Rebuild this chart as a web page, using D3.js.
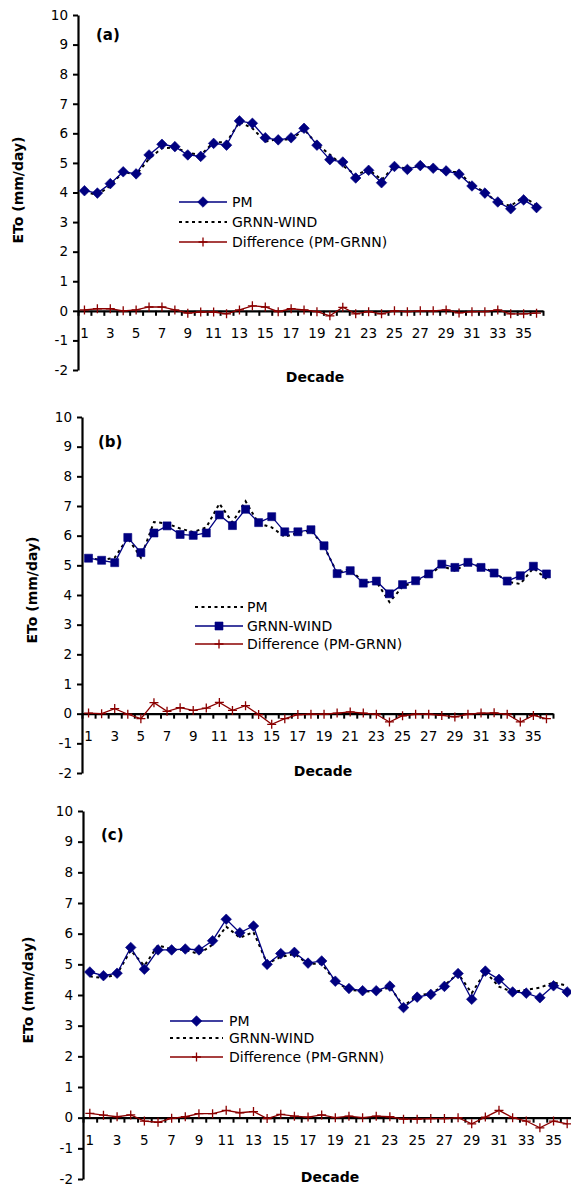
<!DOCTYPE html>
<html>
<head>
<meta charset="utf-8">
<script src="https://cdn.jsdelivr.net/npm/d3@7"></script>
<style>
  body { margin: 0; background: #fff; }
  svg { display: block; font-family: "DejaVu Sans", sans-serif; }
</style>
</head>
<body>
<svg id="chart" width="571" height="1185"></svg>
<script>
// categories and tick labels
var decades = d3.range(1, 37);
var yTicks = [-2, -1, 0, 1, 2, 3, 4, 5, 6, 7, 8, 9, 10];
var xLabels = [1, 3, 5, 7, 9, 11, 13, 15, 17, 19, 21, 23, 25, 27, 29, 31, 33, 35];

// (a)
var pmA = [4.06,3.98,4.30,4.70,4.63,5.27,5.63,5.55,5.27,5.22,5.66,5.60,6.42,6.34,5.85,5.78,5.85,6.17,5.60,5.11,5.03,4.49,4.75,4.33,4.88,4.78,4.91,4.82,4.73,4.62,4.22,3.98,3.68,3.45,3.75,3.49];
var grnnA = [4.03,3.91,4.23,4.70,4.60,5.14,5.50,5.52,5.35,5.26,5.70,5.70,6.39,6.17,5.72,5.81,5.78,6.14,5.63,5.28,4.91,4.59,4.78,4.43,4.88,4.81,4.91,4.82,4.70,4.69,4.25,4.01,3.65,3.55,3.85,3.57];
var diffA = [0.03,0.07,0.07,0.00,0.03,0.13,0.13,0.03,-0.08,-0.04,-0.04,-0.10,0.03,0.17,0.13,-0.03,0.07,0.03,-0.03,-0.17,0.12,-0.10,-0.03,-0.10,0.00,-0.03,0.00,0.00,0.03,-0.07,-0.03,-0.03,0.03,-0.10,-0.10,-0.08];

// (b)
var pmB = [5.26,5.17,5.26,5.92,5.26,6.46,6.41,6.24,6.12,6.28,7.08,6.45,7.16,6.41,6.28,5.96,6.10,6.18,5.64,4.74,4.88,4.42,4.45,3.76,4.28,4.46,4.69,4.98,4.82,5.08,4.95,4.77,4.45,4.37,4.91,4.54];
var grnnB = [5.24,5.17,5.09,5.94,5.43,6.09,6.33,6.04,6.01,6.09,6.70,6.34,6.89,6.44,6.64,6.13,6.13,6.20,5.66,4.72,4.82,4.40,4.47,4.04,4.35,4.48,4.71,5.04,4.93,5.10,4.93,4.74,4.47,4.65,4.97,4.71];
var diffB = [0.02,0.00,0.17,-0.02,-0.17,0.37,0.08,0.20,0.11,0.19,0.38,0.11,0.27,-0.03,-0.36,-0.17,-0.03,-0.02,-0.02,0.02,0.06,0.02,-0.02,-0.28,-0.07,-0.02,-0.02,-0.06,-0.11,-0.02,0.02,0.03,-0.02,-0.28,-0.06,-0.17];

// (c)
var pmC = [4.75,4.63,4.71,5.55,4.84,5.47,5.47,5.50,5.47,5.77,6.47,6.03,6.25,5.00,5.35,5.39,5.04,5.11,4.45,4.21,4.14,4.14,4.29,3.59,3.93,4.02,4.28,4.70,3.86,4.78,4.51,4.10,4.06,3.91,4.30,4.10];
var grnnC = [4.61,4.55,4.68,5.46,4.95,5.62,5.49,5.47,5.34,5.64,6.23,5.87,6.05,5.03,5.24,5.34,5.02,5.02,4.45,4.16,4.14,4.09,4.26,3.64,3.98,4.05,4.31,4.70,4.06,4.76,4.27,4.10,4.17,4.24,4.41,4.30];
var diffC = [0.14,0.08,0.03,0.09,-0.11,-0.15,-0.02,0.03,0.13,0.13,0.24,0.16,0.20,-0.03,0.11,0.05,0.02,0.09,0.00,0.05,0.00,0.05,0.03,-0.05,-0.05,-0.03,-0.03,0.00,-0.20,0.02,0.24,0.00,-0.11,-0.33,-0.11,-0.20];

var NAVY = "#000080";
var RED = "#8b0000";
var FONT = "'DejaVu Sans', sans-serif";

var panels = [
  { tag: "(a)", x0: 78, x1: 543, yTop: 15, yBot: 370,
    tagX: 96, tagY: 40, yLabX: 18, yLabY: 190, decX: 315, decY: 382,
    legX0: 179, legX1: 227, legTx: 232, legY: [202, 222, 242],
    series: [
      { name: "PM", values: pmA, kind: "diamond" },
      { name: "GRNN-WIND", values: grnnA, kind: "dotted" },
      { name: "Difference (PM-GRNN)", values: diffA, kind: "plus" }
    ] },
  { tag: "(b)", x0: 82, x1: 553, yTop: 417, yBot: 773,
    tagX: 98, tagY: 447, yLabX: 32, yLabY: 590, decX: 323, decY: 776,
    legX0: 195, legX1: 243, legTx: 247, legY: [607, 626, 644],
    series: [
      { name: "PM", values: pmB, kind: "dotted" },
      { name: "GRNN-WIND", values: grnnB, kind: "square" },
      { name: "Difference (PM-GRNN)", values: diffB, kind: "plus" }
    ] },
  { tag: "(c)", x0: 83, x1: 574, yTop: 811, yBot: 1179,
    tagX: 101, tagY: 840, yLabX: 28, yLabY: 990, decX: 330, decY: 1182,
    legX0: 170, legX1: 223, legTx: 229, legY: [1021, 1038, 1057],
    series: [
      { name: "PM", values: pmC, kind: "diamond" },
      { name: "GRNN-WIND", values: grnnC, kind: "dotted" },
      { name: "Difference (PM-GRNN)", values: diffC, kind: "plus" }
    ] }
];

var svg = d3.select("#chart");

// marker shapes
function markerPath(kind) {
  if (kind === "diamond") return "M0,-5.3L5.3,0L0,5.3L-5.3,0Z";
  if (kind === "square") return "M-4,-4H4V4H-4Z";
  if (kind === "plus") return "M-4.5,0H4.5M0,-4.5V4.5";
  return null;
}

function styleLine(sel, kind) {
  if (kind === "dotted") {
    sel.attr("stroke", "#000").attr("stroke-width", 2).attr("stroke-dasharray", "3,3.5");
  } else if (kind === "plus") {
    sel.attr("stroke", RED).attr("stroke-width", 1.3);
  } else {
    sel.attr("stroke", NAVY).attr("stroke-width", 1.3);
  }
  sel.attr("fill", "none");
}

function styleMarker(sel, kind) {
  if (kind === "plus") {
    sel.attr("fill", "none").attr("stroke", RED).attr("stroke-width", 1.3);
  } else {
    sel.attr("fill", NAVY).attr("stroke", NAVY).attr("stroke-width", 0.6);
  }
}

var drawPanel = function(p) {
  var g = svg.append("g");

  var x = d3.scaleBand().domain(decades).range([p.x0, p.x1]).padding(0);
  var xEdge = d3.scaleLinear().domain([0, decades.length]).range([p.x0, p.x1]);
  var y = d3.scaleLinear().domain([-2, 10]).range([p.yBot, p.yTop]);
  var cx = function(d) { return x(d) + x.bandwidth() / 2; };

  // y axis (plain hyphen for negatives, as in the original)
  g.append("g")
    .attr("transform", "translate(" + p.x0 + ",0)")
    .call(d3.axisLeft(y).tickValues(yTicks).tickSize(5).tickSizeOuter(0).tickPadding(5)
      .tickFormat(function(d) { return String(d); }))
    .attr("font-family", FONT).attr("font-size", 13.5)
    .call(function(a) {
      a.select(".domain").attr("stroke-width", 2.2);
      a.selectAll(".tick line").attr("stroke-width", 2);
      a.selectAll(".tick text").attr("fill", "#000");
    });

  // x axis line at zero with ticks between categories
  g.append("g")
    .attr("transform", "translate(0," + y(0) + ")")
    .call(d3.axisBottom(xEdge).tickValues(d3.range(0, decades.length + 1)).tickSize(5).tickSizeOuter(0).tickFormat(""))
    .call(function(a) {
      a.select(".domain").attr("stroke-width", 2.2);
      a.selectAll(".tick line").attr("stroke-width", 2);
    });

  // x labels at category centres
  g.append("g")
    .attr("transform", "translate(0," + y(0) + ")")
    .call(d3.axisBottom(x).tickValues(xLabels).tickSize(0).tickPadding(18))
    .attr("font-family", FONT).attr("font-size", 13.5)
    .call(function(a) {
      a.select(".domain").remove();
      a.selectAll(".tick text").attr("fill", "#000");
    });

  // series: dotted first, then solid, then difference
  var order = p.series.slice().sort(function(s1, s2) {
    var rank = { dotted: 0, diamond: 1, square: 1, plus: 2 };
    return rank[s1.kind] - rank[s2.kind];
  });
  var line = d3.line()
    .x(function(d, i) { return cx(decades[i]); })
    .y(function(d) { return y(d); });

  order.forEach(function(s) {
    g.append("path").datum(s.values).attr("d", line).call(styleLine, s.kind);
    var mp = markerPath(s.kind);
    if (mp) {
      g.selectAll(null).data(s.values).enter().append("path")
        .attr("d", mp)
        .attr("transform", function(d, i) { return "translate(" + cx(decades[i]) + "," + y(d) + ")"; })
        .call(styleMarker, s.kind);
    }
  });

  // legend
  p.series.forEach(function(s, i) {
    var ly = p.legY[i];
    g.append("line").attr("x1", p.legX0).attr("x2", p.legX1).attr("y1", ly).attr("y2", ly).call(styleLine, s.kind);
    var mp = markerPath(s.kind);
    if (mp) {
      g.append("path").attr("d", mp)
        .attr("transform", "translate(" + ((p.legX0 + p.legX1) / 2) + "," + ly + ")")
        .call(styleMarker, s.kind);
    }
    g.append("text").attr("x", p.legTx).attr("y", ly).attr("dy", "0.36em")
      .attr("font-size", 14).attr("fill", "#000").text(s.name);
  });

  // panel tag and axis titles
  g.append("text").attr("x", p.tagX).attr("y", p.tagY)
    .attr("font-size", 15).attr("font-weight", "bold").text(p.tag);
  g.append("text").attr("x", p.decX).attr("y", p.decY).attr("text-anchor", "middle")
    .attr("font-size", 14).attr("font-weight", "bold").text("Decade");
  g.append("text")
    .attr("transform", "translate(" + p.yLabX + "," + p.yLabY + ") rotate(-90)")
    .attr("text-anchor", "middle").attr("dy", "0.36em")
    .attr("font-size", 14).attr("font-weight", "bold").text("ETo (mm/day)");
};

panels.forEach(drawPanel);
</script>
</body>
</html>
